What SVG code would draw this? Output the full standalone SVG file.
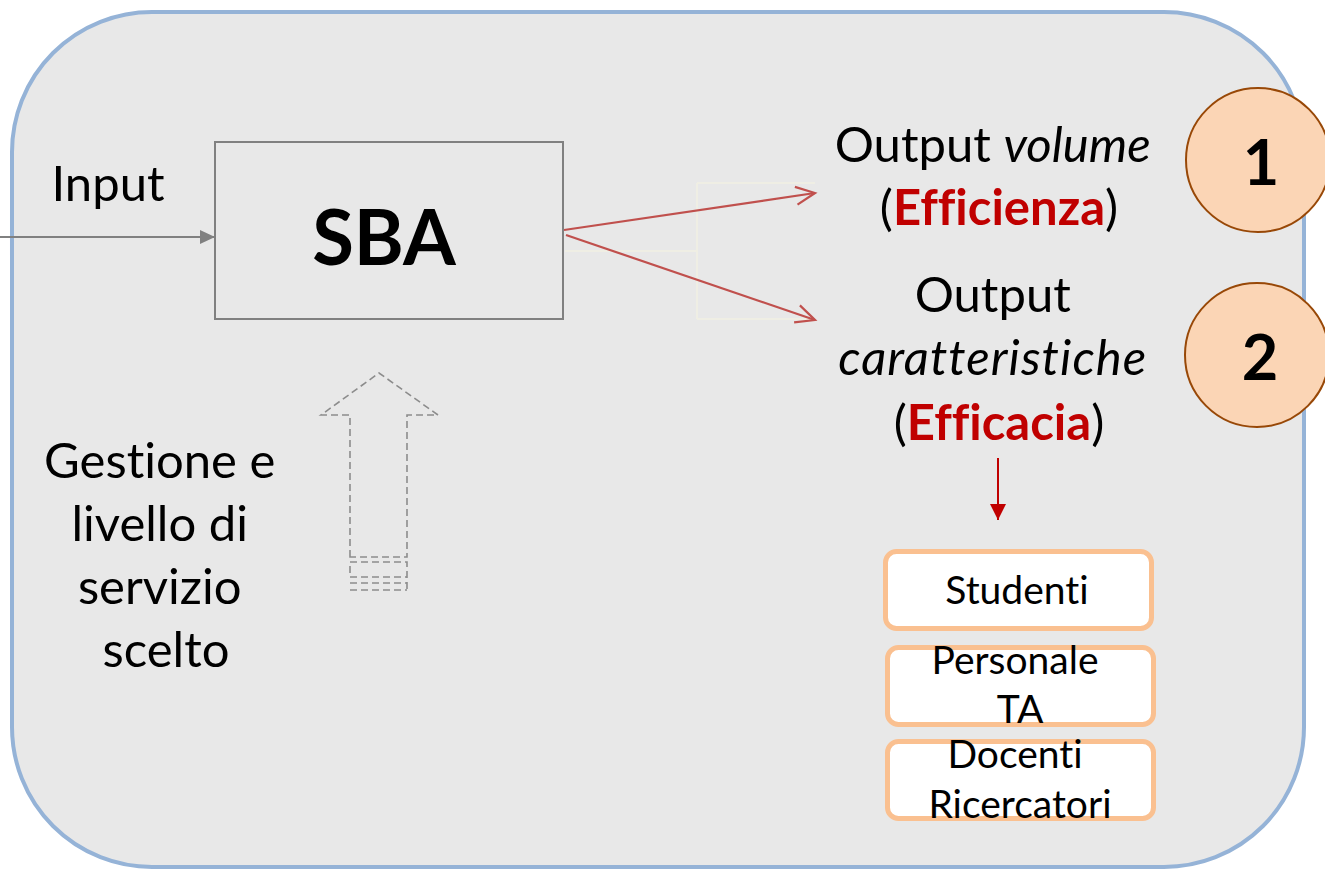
<svg xmlns="http://www.w3.org/2000/svg" width="1325" height="869" viewBox="0 0 1325 869">
  <defs>
    <style>
      .t { font-family: Lato, "Open Sans", sans-serif; fill: #000; font-variant-ligatures: none; }
      .big { font-size: 49px; }
      .box { font-size: 39px; }
      .red { fill: #c00000; font-weight: bold; }
      .num { font-family: Lato, "Open Sans", sans-serif; font-weight: bold; font-size: 63px; fill: #000; }
      .circ { fill: #fbd5b5; stroke: #984807; stroke-width: 2; }
      .pill { fill: #ffffff; stroke: #fac090; stroke-width: 5; }
      .ghost { stroke: #f1efe2; stroke-width: 1.5; fill: none; }
      .dash { stroke: #8c8c8c; stroke-width: 1.6; fill: none; stroke-dasharray: 7 4; }
    </style>
    <marker id="grayHead" markerWidth="16" markerHeight="14" refX="15" refY="7" orient="auto" markerUnits="userSpaceOnUse">
      <path d="M0,0 L15,7 L0,14 Z" fill="#808080"/>
    </marker>
    <marker id="openHead" markerWidth="24" markerHeight="22" refX="21" refY="11" orient="auto" markerUnits="userSpaceOnUse">
      <path d="M2,2 L21,11 L2,20" fill="none" stroke="#c0504d" stroke-width="2.2"/>
    </marker>
    <marker id="redHead" markerWidth="18" markerHeight="18" refX="16" refY="8" orient="auto" markerUnits="userSpaceOnUse">
      <path d="M0,0 L16,8 L0,16 Z" fill="#c00000"/>
    </marker>
  </defs>

  <g id="background">
    <rect x="12" y="12" width="1292" height="855" rx="140" ry="140" fill="#e8e8e8" stroke="#95b3d7" stroke-width="4"/>
  </g>

  <g id="connectors">
    <path class="ghost" d="M565,251 L697,251 M697,183 L697,319 M697,183 L815,183 M697,319 L815,319"/>
    <line x1="0" y1="237" x2="215" y2="237" stroke="#808080" stroke-width="2" marker-end="url(#grayHead)"/>
    <line x1="564" y1="230" x2="815" y2="193" stroke="#c0504d" stroke-width="2.2" marker-end="url(#openHead)"/>
    <line x1="566" y1="235" x2="815" y2="320" stroke="#c0504d" stroke-width="2.2" marker-end="url(#openHead)"/>
    <line x1="998" y1="458" x2="998" y2="520" stroke="#c00000" stroke-width="2" marker-end="url(#redHead)"/>
  </g>

  <g id="input-label">
    <text class="t big" x="108" y="201" text-anchor="middle">Input</text>
  </g>

  <g id="sba">
    <rect x="215" y="142" width="348" height="177" fill="#e8e8e8" stroke="#808080" stroke-width="2"/>
    <text class="t" x="384" y="265" text-anchor="middle" font-size="76" font-weight="bold">SBA</text>
  </g>

  <g id="gestione-arrow">
    <path class="dash" d="M350,557 L350,415 L321,415 L379,373 L438,415 L407,415 L407,557 Z"/>
    <path class="dash" d="M350,573 L350,562 L407,562 L407,590 M350,577 L407,577 M350,583 L407,583 M350,590 L407,590"/>
  </g>

  <g id="gestione-label">
    <text class="t big" text-anchor="middle">
      <tspan x="166" y="478">Gestione e</tspan>
      <tspan x="166" y="541">livello di</tspan>
      <tspan x="166" y="604">servizio</tspan>
      <tspan x="166" y="667">scelto</tspan>
    </text>
  </g>

  <g id="output-volume">
    <text class="t big" text-anchor="middle">
      <tspan x="999" y="162">Output <tspan font-style="italic">volume</tspan></tspan>
      <tspan x="999" y="225">(<tspan class="red">Efficienza</tspan>)</tspan>
    </text>
  </g>

  <g id="output-caratteristiche">
    <text class="t big" text-anchor="middle">
      <tspan x="999" y="312">Output</tspan>
      <tspan x="999" y="375" font-style="italic" textLength="308" lengthAdjust="spacing">caratteristiche</tspan>
      <tspan x="999" y="440">(<tspan class="red">Efficacia</tspan>)</tspan>
    </text>
  </g>

  <g id="circle-1">
    <circle class="circ" cx="1258" cy="160" r="72"/>
    <text class="num" x="1261" y="185" text-anchor="middle">1</text>
  </g>

  <g id="circle-2">
    <circle class="circ" cx="1257" cy="355" r="72"/>
    <text class="num" x="1260" y="380" text-anchor="middle">2</text>
  </g>

  <g id="studenti">
    <rect class="pill" x="885.5" y="551.5" width="266" height="77" rx="11"/>
    <text class="t box" x="1017" y="604" text-anchor="middle">Studenti</text>
  </g>

  <g id="personale">
    <rect class="pill" x="887.5" y="647.5" width="266" height="77" rx="11"/>
    <text class="t box" text-anchor="middle">
      <tspan x="1020" y="674">Personale</tspan>
      <tspan x="1020" y="723">TA</tspan>
    </text>
  </g>

  <g id="docenti">
    <rect class="pill" x="887.5" y="741.5" width="266" height="77" rx="11"/>
    <text class="t box" text-anchor="middle">
      <tspan x="1020" y="768">Docenti</tspan>
      <tspan x="1020" y="818">Ricercatori</tspan>
    </text>
  </g>
</svg>
